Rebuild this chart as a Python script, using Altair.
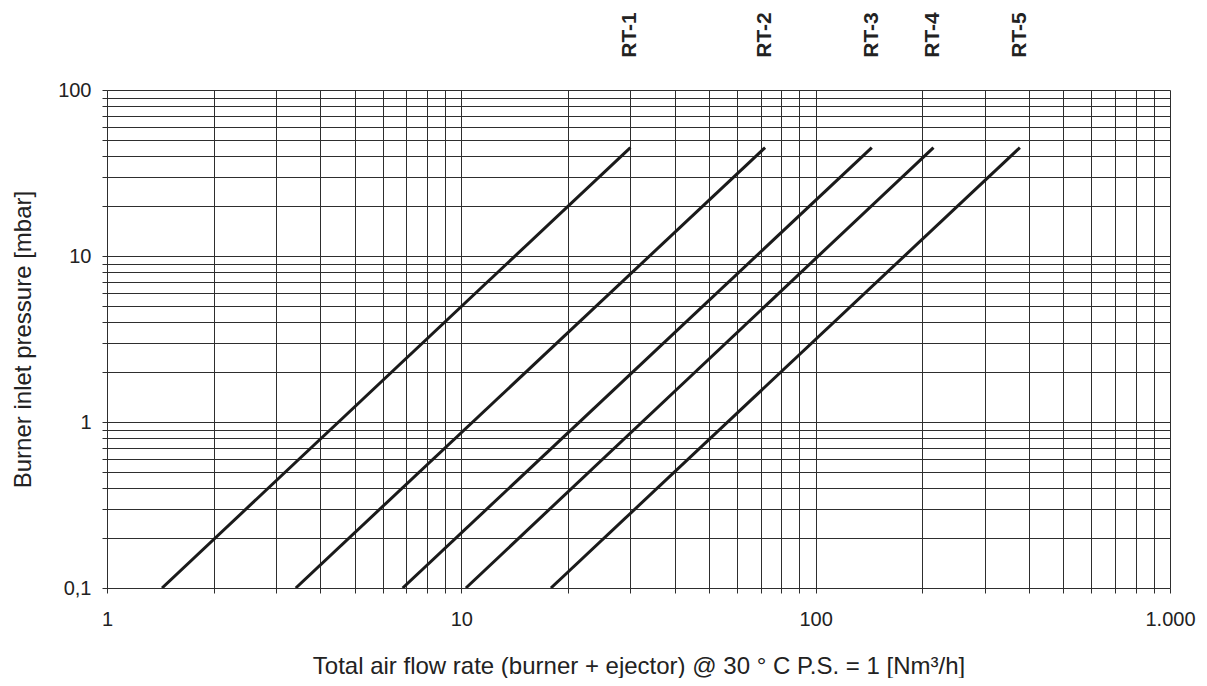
import altair as alt
import pandas as pd

# ---- data ----
series = ["RT-1", "RT-2", "RT-3", "RT-4", "RT-5"]
flow_start = [1.43, 3.41, 6.83, 10.3, 17.9]     # Nm3/h at 0,1 mbar
flow_end = [30.0, 72.0, 144.0, 215.0, 377.0]     # Nm3/h at ~45 mbar
press_start = [0.1, 0.1, 0.1, 0.1, 0.1]
press_end = [45.0, 45.0, 45.0, 45.0, 45.0]

x_ticks = [1, 2, 3, 4, 5, 6, 7, 8, 9,
           10, 20, 30, 40, 50, 60, 70, 80, 90,
           100, 200, 300, 400, 500, 600, 700, 800, 900, 1000]
y_ticks = [0.1, 0.2, 0.3, 0.4, 0.5, 0.6, 0.7, 0.8, 0.9,
           1, 2, 3, 4, 5, 6, 7, 8, 9,
           10, 20, 30, 40, 50, 60, 70, 80, 90, 100]
x_major = [1, 10, 100, 1000]
x_major_labels = ["1", "10", "100", "1.000"]
y_major = [0.1, 1, 10, 100]
y_major_labels = ["0,1", "1", "10", "100"]

x_title = "Total air flow rate (burner + ejector) @ 30 ° C P.S. = 1 [Nm³/h]"
y_title = "Burner inlet pressure [mbar]"

rows = []
for s, xs, xe, ys, ye in zip(series, flow_start, flow_end, press_start, press_end):
    rows.append({"series": s, "flow": xs, "pressure": ys, "order": 0})
    rows.append({"series": s, "flow": xe, "pressure": ye, "order": 1})
df = pd.DataFrame(rows)
lab = pd.DataFrame({"series": series, "flow": flow_end})


def label_expr(vals, labels):
    expr = "''"
    for v, l in reversed(list(zip(vals, labels))):
        expr = f"(abs(datum.value - {v}) < {v} * 1e-6) ? '{l}' : ({expr})"
    return expr


FONT = "Liberation Sans"
GRID = "#2e2e2e"
TXT = "#222222"

x_scale = alt.Scale(type="log", domain=[1, 1000], nice=False)
y_scale = alt.Scale(type="log", domain=[0.1, 100], nice=False)

x_axis = alt.Axis(values=x_ticks, labelExpr=label_expr(x_major, x_major_labels),
                  title=x_title, grid=True, gridColor=GRID, gridWidth=1, gridOpacity=1,
                  tickColor=GRID, tickSize=5, domainColor=GRID,
                  labelFont=FONT, labelFontSize=20, labelColor=TXT, labelPadding=16,
                  labelFlush=False, labelOverlap=False, labelBound=False,
                  titleFont=FONT, titleFontSize=24, titleFontWeight="normal",
                  titleColor=TXT, titlePadding=25)
y_axis = alt.Axis(values=y_ticks, labelExpr=label_expr(y_major, y_major_labels),
                  title=y_title, grid=True, gridColor=GRID, gridWidth=1, gridOpacity=1,
                  tickColor=GRID, tickSize=5, domainColor=GRID,
                  labelFont=FONT, labelFontSize=20, labelColor=TXT, labelPadding=11,
                  labelFlush=False, labelOverlap=False, labelBound=False,
                  titleFont=FONT, titleFontSize=24, titleFontWeight="normal",
                  titleColor=TXT, titlePadding=22)

lines = alt.Chart(df).mark_line(color="#1a1a1a", strokeWidth=3, clip=True).encode(
    x=alt.X("flow:Q", scale=x_scale, axis=x_axis),
    y=alt.Y("pressure:Q", scale=y_scale, axis=y_axis),
    detail="series:N",
    order="order:Q",
)

labels = alt.Chart(lab).mark_text(angle=270, align="center", baseline="middle",
                                  font=FONT, fontSize=21, fontWeight="bold",
                                  color=TXT).encode(
    x=alt.X("flow:Q", scale=x_scale),
    y=alt.value(-55),
    text="series:N",
)

chart = alt.layer(lines, labels).properties(
    width=1063, height=498,
    autosize=alt.AutoSizeParams(type="none"),
    padding={"left": 99, "top": 82, "right": 29, "bottom": 90},
    background="white",
).configure_view(strokeWidth=0)

chart.save("out.html", embed_options={"renderer": "svg", "actions": False})
